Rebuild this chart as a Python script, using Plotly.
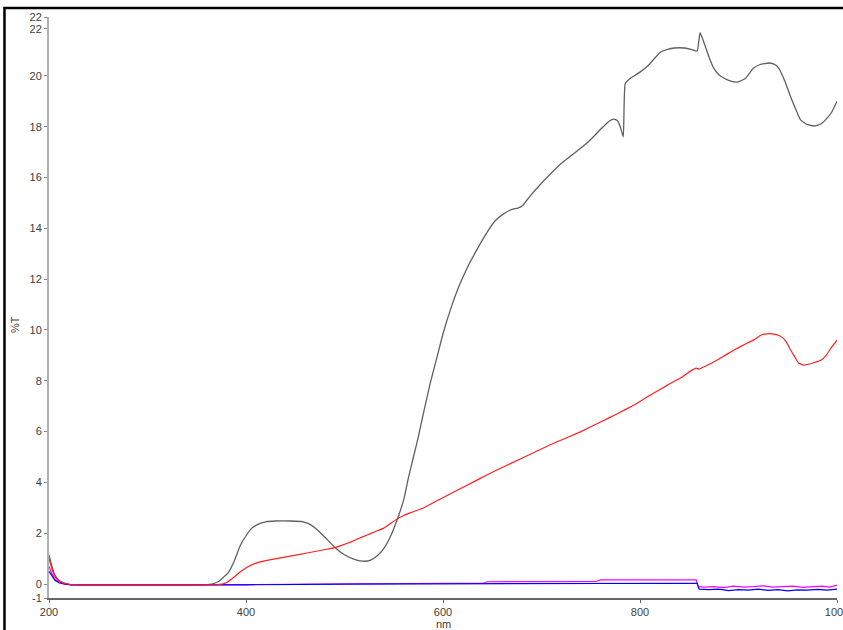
import plotly.graph_objects as go

# ---- data (nm, %T) ----
black_x = [200, 203, 206, 210, 215, 222, 250, 300, 350, 365, 372, 378, 382, 388, 394, 400, 406, 412, 420, 430, 445, 458, 465, 472, 480, 490, 500, 510, 518, 526, 533, 540, 547, 555, 560, 565, 570, 575, 580, 587, 594, 600, 608, 616, 625, 635, 645, 653, 661.5, 670, 676, 681, 685, 689, 697, 706, 720, 738, 750, 760, 768, 773, 777, 780, 783, 785, 790, 800, 808, 815, 821, 828, 835, 845, 852, 858, 861, 866, 870, 875, 880, 885, 892, 899, 907, 915, 922, 931, 937, 941, 947, 953, 958, 963, 970, 977, 984, 991, 995, 1000]
black_y = [1.15, 0.7, 0.35, 0.15, 0.05, -0.02, -0.03, -0.03, -0.03, 0.0, 0.1, 0.3, 0.45, 0.9, 1.5, 1.9, 2.2, 2.35, 2.45, 2.48, 2.48, 2.45, 2.35, 2.15, 1.85, 1.45, 1.15, 0.97, 0.9, 0.93, 1.1, 1.4, 1.9, 2.7, 3.3, 4.2, 5.0, 5.8, 6.7, 7.9, 8.94, 9.85, 10.85, 11.7, 12.48, 13.2, 13.86, 14.3, 14.57, 14.75, 14.8, 14.9, 15.1, 15.3, 15.65, 16.02, 16.55, 17.1, 17.5, 17.9, 18.2, 18.3, 18.25, 18.0, 17.6, 19.7, 19.9, 20.15, 20.4, 20.7, 20.94, 21.05, 21.1, 21.1, 21.05, 20.98, 21.7, 21.2, 20.75, 20.3, 20.05, 19.92, 19.8, 19.76, 19.9, 20.3, 20.45, 20.51, 20.45, 20.3, 19.8, 19.17, 18.7, 18.27, 18.08, 18.03, 18.12, 18.39, 18.6, 19.0]

red_x = [200, 203, 206, 210, 215, 222, 300, 370, 380, 387, 394, 402, 411, 420, 428, 445, 462, 478, 489, 497, 506, 515, 523, 531, 540, 548, 557, 568, 580, 595, 620, 650, 680, 710, 740, 760, 777, 794, 811, 828, 843, 852, 857, 860, 865, 869, 882, 895, 909, 916, 923, 929, 936, 941, 945, 949, 953, 957, 961, 966, 971, 977, 984, 989, 994, 1000]
red_y = [1.0, 0.6, 0.3, 0.12, 0.03, -0.02, -0.03, -0.03, 0.05, 0.25, 0.47, 0.68, 0.83, 0.92, 0.98, 1.1, 1.22, 1.34, 1.42, 1.52, 1.65, 1.8, 1.93, 2.06, 2.2, 2.42, 2.64, 2.82, 2.99, 3.3, 3.8, 4.4, 4.95, 5.5, 6.0, 6.38, 6.7, 7.05, 7.45, 7.83, 8.15, 8.4, 8.5, 8.46, 8.55, 8.62, 8.9, 9.2, 9.49, 9.62, 9.8, 9.85, 9.84, 9.78, 9.69, 9.5, 9.2, 8.95, 8.7, 8.62, 8.65, 8.72, 8.82, 9.0, 9.29, 9.6]

magenta_x = [200, 203, 206, 210, 216, 222, 400, 560, 641, 645, 755, 760, 857, 859, 865, 875, 885, 895, 905, 915, 925, 935, 945, 955, 965, 975, 985, 992, 1000]
magenta_y = [0.7, 0.4, 0.2, 0.08, 0.0, -0.02, -0.02, 0.02, 0.04, 0.09, 0.1, 0.16, 0.16, -0.1, -0.12, -0.1, -0.14, -0.08, -0.12, -0.1, -0.07, -0.12, -0.1, -0.08, -0.13, -0.1, -0.08, -0.12, -0.05]

blue_x = [200, 203, 206, 210, 216, 222, 400, 500, 858, 860, 870, 880, 890, 900, 910, 920, 930, 940, 950, 960, 970, 980, 990, 1000]
blue_y = [0.5, 0.3, 0.15, 0.05, -0.01, -0.03, -0.03, 0.0, 0.03, -0.2, -0.22, -0.2, -0.26, -0.22, -0.24, -0.2, -0.25, -0.22, -0.27, -0.23, -0.24, -0.21, -0.24, -0.2]

x_ticks = [200, 400, 600, 800, 1000]
y_tickvals = [-0.55, 0, 2, 4, 6, 8, 10, 12, 14, 16, 18, 20, 21.85, 22.32]
y_ticktext = ["-1", "0", "2", "4", "6", "8", "10", "12", "14", "16", "18", "20", "22", "22"]

FONT = "Liberation Sans, Arial, sans-serif"
TXT = "#404040"

fig = go.Figure()
fig.add_trace(go.Scatter(x=black_x, y=black_y, mode="lines",
                         line=dict(color="#606060", width=1.3, shape="spline", smoothing=0.4)))
fig.add_trace(go.Scatter(x=magenta_x, y=magenta_y, mode="lines", line=dict(color="#ff00ff", width=1.2)))
fig.add_trace(go.Scatter(x=blue_x, y=blue_y, mode="lines", line=dict(color="#0000ff", width=1.2)))
fig.add_trace(go.Scatter(x=red_x, y=red_y, mode="lines",
                         line=dict(color="#ff2020", width=1.2, shape="spline", smoothing=0.3)))

fig.update_layout(
    width=843, height=630,
    margin=dict(l=49, r=6, t=17, b=32, autoexpand=False),
    paper_bgcolor="white", plot_bgcolor="white",
    showlegend=False,
    font=dict(family=FONT, size=11, color=TXT),
    xaxis=dict(range=[200, 1000], tickvals=x_ticks, ticktext=[str(v) for v in x_ticks],
               showgrid=False, zeroline=False, showline=True, linecolor="#666", linewidth=1.5,
               ticks="outside", ticklen=3, tickcolor="#666", automargin=False,
               ticklabeloverflow="allow"),
    yaxis=dict(range=[-0.55, 22.32], tickvals=y_tickvals, ticktext=y_ticktext,
               showgrid=False, zeroline=False, showline=True, linecolor="#b0b0b0", linewidth=2,
               ticks="outside", ticklen=3, tickcolor="#888", automargin=False,
               ticklabeloverflow="allow"),
    shapes=[dict(type="rect", xref="paper", yref="paper",
                 x0=-0.0565, x1=1.06, y0=-0.12, y1=1.0155,
                 line=dict(color="black", width=2.5), fillcolor="rgba(0,0,0,0)", layer="above")],
    annotations=[
        dict(text="nm", xref="paper", yref="paper", x=0.5, y=-0.045, xanchor="center", yanchor="middle",
             showarrow=False, font=dict(family=FONT, size=11, color=TXT)),
        dict(text="%T", xref="paper", yref="paper", x=-0.043, y=0.47, xanchor="center", yanchor="middle",
             textangle=-90, showarrow=False, font=dict(family=FONT, size=11, color=TXT)),
    ],
)

fig.write_html("out.html", config={"displayModeBar": False},
               post_script="document.body.style.margin='0px';document.body.style.overflow='hidden';")
